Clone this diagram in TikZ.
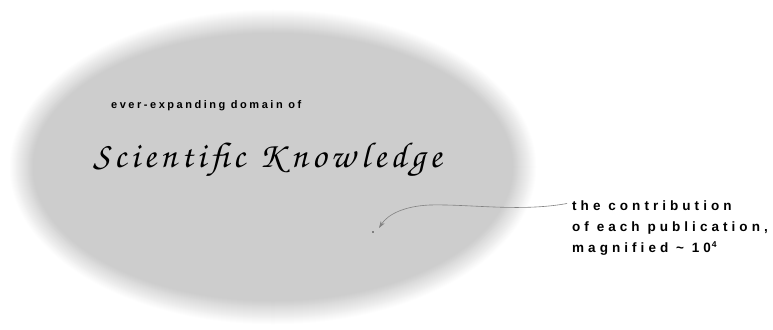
\documentclass[tikz,border=0pt]{standalone}
\usepackage{fontspec}
\setmainfont{Liberation Sans}
\newfontfamily\spacedsmall[LetterSpace=23]{Liberation Sans}
\newfontfamily\spaced[LetterSpace=30]{Liberation Sans}
\newfontfamily\chorus[LetterSpace=12]{TeX Gyre Chorus}
\usetikzlibrary{arrows.meta}
\definecolor{ellgray}{RGB}{203,203,203}
\definecolor{arrgray}{RGB}{130,130,130}
\tikzset{
  smalllabel/.style={anchor=base west, inner sep=0pt, font=\spacedsmall\bfseries\fontsize{11}{12}\selectfont},
  notelabel/.style={anchor=base west, inner sep=0pt, font=\spaced\bfseries\fontsize{13.5}{15}\selectfont},
  titlelabel/.style={anchor=base west, inner sep=0pt, font=\chorus\fontsize{36}{40}\selectfont},
  pointer/.style={draw=arrgray, line width=0.6pt, -{Stealth[length=7pt,width=4.5pt]}}
}
\begin{document}
\begin{tikzpicture}[x=1pt,y=-1pt]
\useasboundingbox (0,0) rectangle (773,329);
\fill[white] (0,0) rectangle (773,329);
\foreach \i in {0,...,24}{
  \pgfmathsetmacro{\rx}{264-\i}
  \pgfmathsetmacro{\ry}{158-\i}
  \pgfmathsetmacro{\pc}{\i*4}
  \fill[ellgray!\pc!white] (273,167) ellipse [x radius=\rx, y radius=\ry];
}
\node[smalllabel] (domain) at (111,108) {ever-expanding domain of};
\node[titlelabel] (title) at (93,167) {Scientific\hspace{14pt}K\hspace{8pt}now\hspace{6pt}ledge};
\node[notelabel] (note1) at (572,210.5) {the contribution};
\node[notelabel] (note2) at (572,231.5) {of each publication,};
\node[notelabel] (note3) at (572,252.5) {magnified \char"7E\ 10\hspace{1pt}\raisebox{5pt}{\fontsize{8.5}{9}\selectfont 4}};
\node[circle, fill=black!80, inner sep=0pt, minimum size=1.8pt] (dot) at (373,232) {};
\draw[pointer] (note1.base west) ++(-5,-7) coordinate (start)
  (start) .. controls (520,212) and (470,204) .. (430,205)
  .. controls (405,206) and (388,214) .. (379,228);
\end{tikzpicture}
\end{document}
